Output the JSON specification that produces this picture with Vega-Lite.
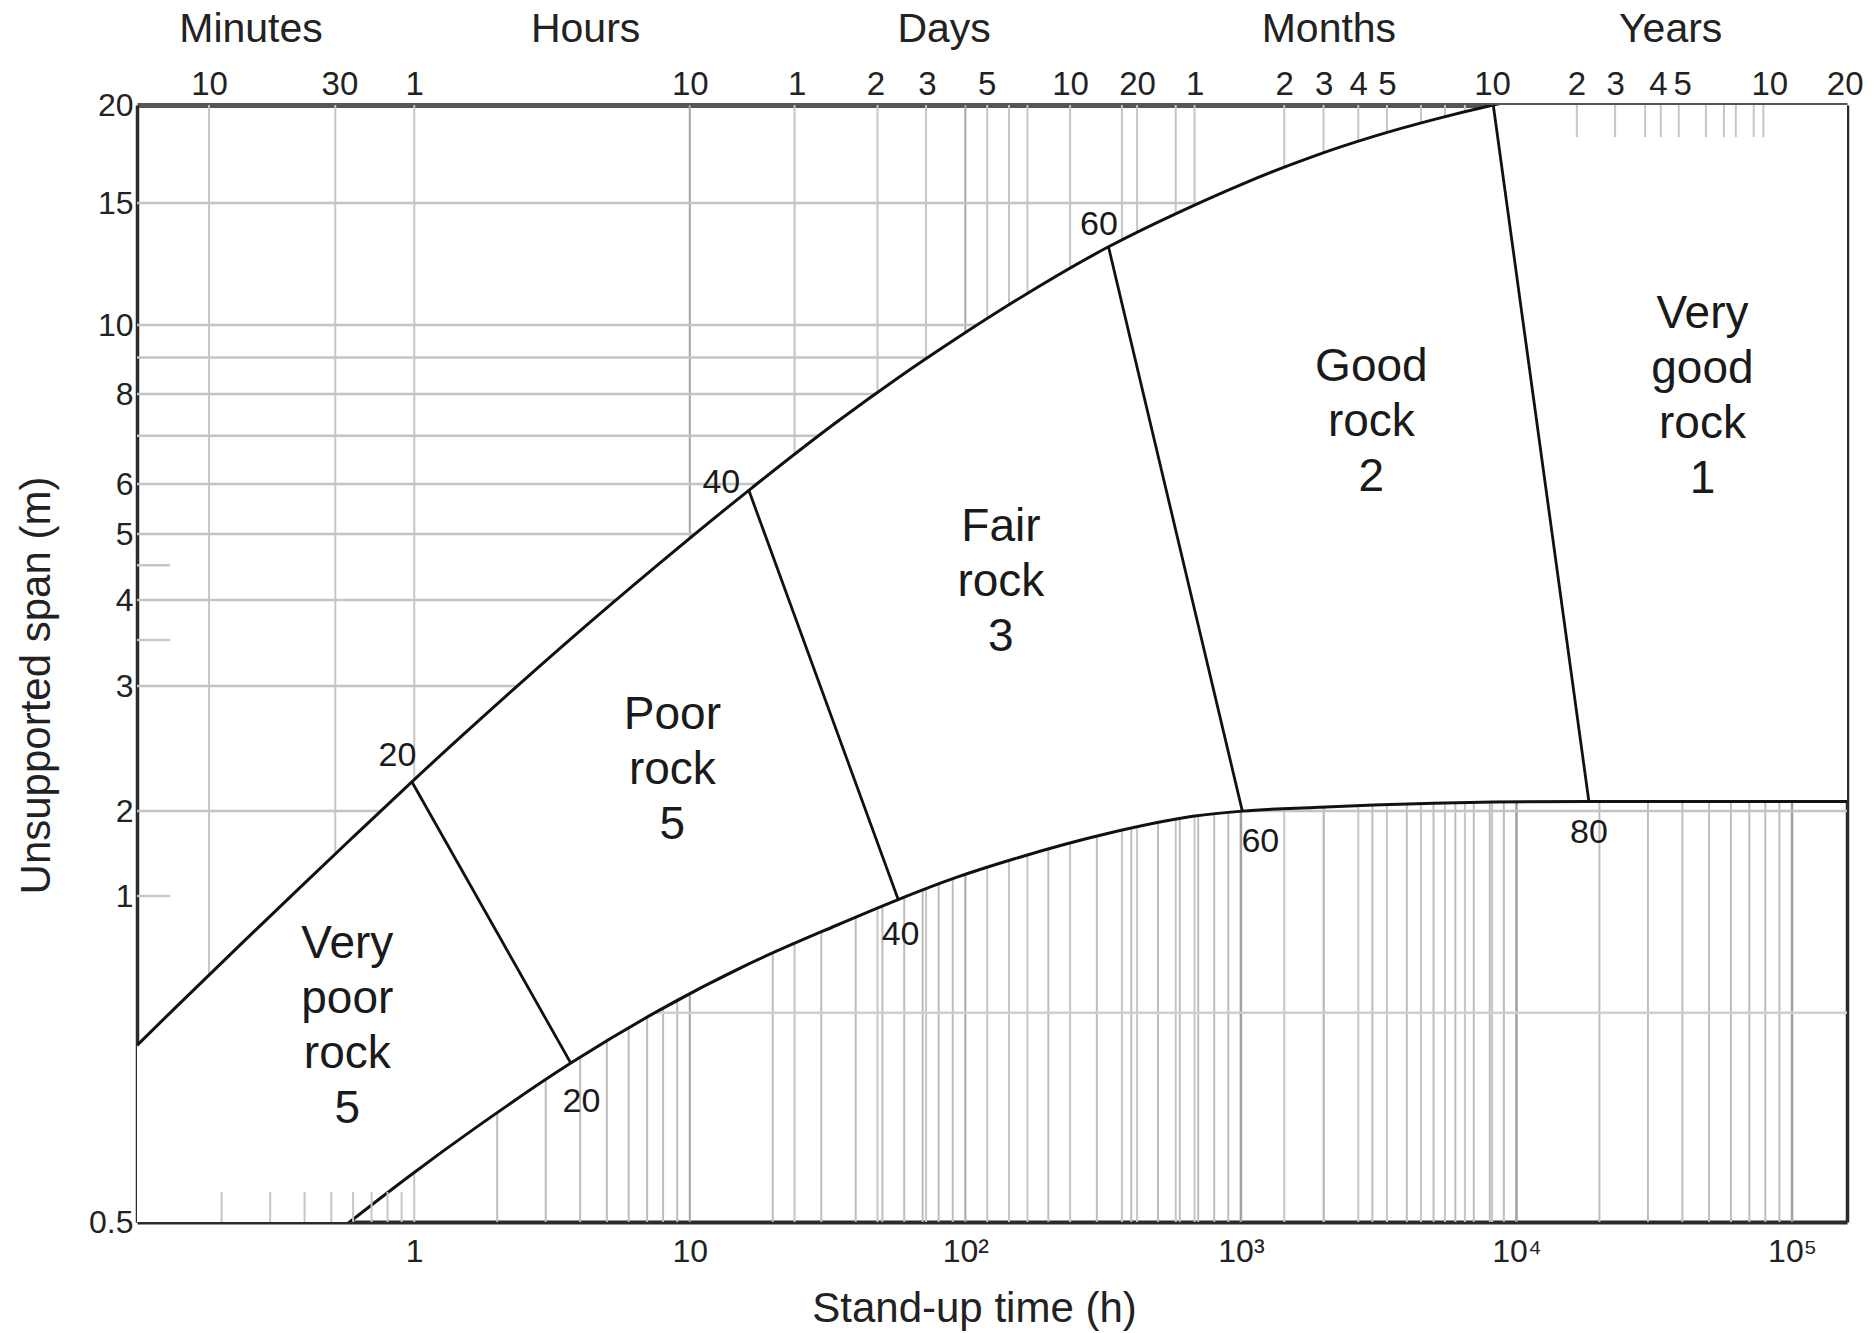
{
  "$schema": "https://vega.github.io/schema/vega-lite/v6.json",
  "width": 1710,
  "height": 1117,
  "autosize": {"type": "none"},
  "padding": {"left": 137, "top": 105, "right": 27, "bottom": 111},
  "background": "white",
  "config": {
    "view": {"stroke": null},
    "font": "Liberation Sans",
    "axis": {
      "labelFont": "Liberation Sans",
      "titleFont": "Liberation Sans",
      "labelColor": "#222",
      "titleColor": "#222",
      "titleFontWeight": "normal",
      "grid": false,
      "ticks": false,
      "tickSize": 0,
      "labelOverlap": false,
      "labelFlush": false,
      "zindex": 1,
      "domainColor": "#2b2b2b",
      "domainWidth": 3.5
    },
    "text": {"font": "Liberation Sans", "color": "#1a1a1a"}
  },
  "datasets": {
    "gridA": [{"t":0.18},{"t":0.517},{"t":1},{"t":24},{"t":48},{"t":72},{"t":120},{"t":144},{"t":168},{"t":240},{"t":370},{"t":420},{"t":580},{"t":679},{"t":1436},{"t":1995},{"t":2666},{"t":3388},{"t":4500},{"t":5500},{"t":6500},{"t":8157}],
    "gridADark": [{"t":10},{"t":100}],
    "gridB": [{"t":2},{"t":3},{"t":4},{"t":5},{"t":6},{"t":7},{"t":8},{"t":9},{"t":20},{"t":30},{"t":40},{"t":50},{"t":60},{"t":70},{"t":80},{"t":90},{"t":200},{"t":300},{"t":400},{"t":500},{"t":600},{"t":700},{"t":800},{"t":900},{"t":2000},{"t":3000},{"t":4000},{"t":5000},{"t":6000},{"t":7000},{"t":8000},{"t":9000},{"t":20000},{"t":30000},{"t":40000},{"t":50000},{"t":60000},{"t":70000},{"t":80000},{"t":90000}],
    "gridBDark": [{"t":1000},{"t":10000},{"t":100000}],
    "gridC": [{"s":15},{"s":10},{"s":9},{"s":8},{"s":7},{"s":6},{"s":5},{"s":4},{"s":3},{"s":2}],
    "gridD": [{"s":0.78}],
    "band": [
      {"t":0.0986,"up":0.728,"lo":0.3483},
      {"t":0.13983,"up":0.7943,"lo":0.374},
      {"t":0.23047,"up":0.8985,"lo":0.4139},
      {"t":0.37967,"up":1.0583,"lo":0.4581},
      {"t":0.58318,"up":1.576,"lo":0.5},
      {"t":0.98023,"up":2.1988,"lo":0.5535},
      {"t":1.6976,"up":2.6719,"lo":0.6127},
      {"t":3.6999,"up":3.5122,"lo":0.701},
      {"t":7.5913,"up":4.4924,"lo":0.7821},
      {"t":16.377,"up":5.8635,"lo":0.8656},
      {"t":33.95,"up":7.3033,"lo":0.9392},
      {"t":57.06,"up":8.4325,"lo":0.9924},
      {"t":92.14,"up":9.5563,"lo":1.1609},
      {"t":151.8,"up":10.837,"lo":1.3575},
      {"t":330.7,"up":12.969,"lo":1.6683},
      {"t":678.8,"up":14.899,"lo":1.9194},
      {"t":1012,"up":15.86,"lo":1.998},
      {"t":1842,"up":17.217,"lo":2.0233},
      {"t":3035,"up":18.24,"lo":2.039},
      {"t":5001,"up":19.16,"lo":2.0509},
      {"t":8237,"up":20.0,"lo":2.0589},
      {"t":18313,"up":21.15,"lo":2.0629},
      {"t":36846,"up":22.0,"lo":2.0629},
      {"t":158300,"up":23.16,"lo":2.0629}
    ],
    "dividers": [
      {"rmr":20,"t1":0.98023,"s1":2.1988,"t2":3.6999,"s2":0.701},
      {"rmr":40,"t1":16.377,"s1":5.8635,"t2":57.06,"s2":0.9924},
      {"rmr":60,"t1":330.7,"s1":12.969,"t2":1012,"s2":1.998},
      {"rmr":80,"t1":8237,"s1":20.0,"t2":18313,"s2":2.0629}
    ],
    "botTicks": [{"t":0.2},{"t":0.3},{"t":0.4},{"t":0.5},{"t":0.6},{"t":0.7},{"t":0.8},{"t":0.9}],
    "leftTicks": [{"s":4.5},{"s":3.5},{"s":1}],
    "topTicks": [{"t":16560},{"t":22800},{"t":29300},{"t":33400},{"t":38800},{"t":48700},{"t":56600},{"t":62500},{"t":72600},{"t":78700}],
    "rmrLabels": [
      {"t":0.8695,"s":2.3888,"label":"20"},
      {"t":4.0464,"s":0.6459,"label":"20"},
      {"t":13.018,"s":6.0232,"label":"40"},
      {"t":58.21,"s":0.9197,"label":"40"},
      {"t":305.4,"s":13.964,"label":"60"},
      {"t":1175.7,"s":1.5517,"label":"60"},
      {"t":18313,"s":1.6781,"label":"80"}
    ],
    "regions": [
      {"t":0.5716,"s":0.9034,"label":"Very\npoor\nrock\n5"},
      {"t":8.645,"s":2.7344,"label":"Poor\nrock\n5"},
      {"t":134.6,"s":5.132,"label":"Fair\nrock\n3"},
      {"t":2975,"s":8.7393,"label":"Good\nrock\n2"},
      {"t":47300,"s":10.364,"label":"Very\ngood\nrock\n1"}
    ]
  },
  "resolve": {"axis": {"x": "independent", "y": "independent"}},
  "layer": [
    {
      "data": {"name": "gridA"},
      "mark": {"type": "rule", "color": "#c6c6c6", "strokeWidth": 2},
      "encoding": {
        "x": {
          "field": "t", "type": "quantitative",
          "scale": {"type": "log", "domain": [0.0986, 158300], "nice": false, "zero": false},
          "axis": {
            "orient": "top",
            "values": [0.18, 0.535, 1, 10, 24.4, 47.2, 72.5, 119.5, 240, 420, 679, 1436, 1995, 2666, 3388, 8157, 16500, 22800, 32600, 39900, 82700, 155200],
            "labelExpr": "datum.value < 0.3 ? '10' : datum.value < 0.8 ? '30' : datum.value < 3 ? '1' : datum.value < 15 ? '10' : datum.value < 35 ? '1' : datum.value < 60 ? '2' : datum.value < 95 ? '3' : datum.value < 180 ? '5' : datum.value < 330 ? '10' : datum.value < 550 ? '20' : datum.value < 1000 ? '1' : datum.value < 1700 ? '2' : datum.value < 2300 ? '3' : datum.value < 3000 ? '4' : datum.value < 5000 ? '5' : datum.value < 12000 ? '10' : datum.value < 19000 ? '2' : datum.value < 27000 ? '3' : datum.value < 36000 ? '4' : datum.value < 60000 ? '5' : datum.value < 120000 ? '10' : '20'",
            "labelFontSize": 33,
            "labelPadding": 4,
            "title": null,
            "domainColor": "#555",
            "domainWidth": 5
          }
        },
        "y": {
          "datum": 0.5, "type": "quantitative",
          "scale": {"type": "log", "domain": [0.5, 1, 2, 3, 4, 5, 6, 8, 10, 15, 20], "range": [1117, 791, 706, 581, 495, 429, 379, 289, 220, 98, 0], "nice": false, "zero": false},
          "axis": null
        },
        "y2": {"datum": 20}
      }
    },
    {
      "data": {"name": "gridADark"},
      "mark": {"type": "rule", "color": "#a6a6a6", "strokeWidth": 2},
      "encoding": {
        "x": {"field": "t", "type": "quantitative", "axis": null},
        "y": {"datum": 0.5, "type": "quantitative", "axis": null},
        "y2": {"datum": 20}
      }
    },
    {
      "data": {"name": "gridB"},
      "mark": {"type": "rule", "color": "#bdbdbd", "strokeWidth": 2},
      "encoding": {
        "x": {"field": "t", "type": "quantitative", "axis": null},
        "y": {"datum": 0.5, "type": "quantitative", "axis": null},
        "y2": {"datum": 2.1}
      }
    },
    {
      "data": {"name": "gridBDark"},
      "mark": {"type": "rule", "color": "#a0a0a0", "strokeWidth": 2.5},
      "encoding": {
        "x": {"field": "t", "type": "quantitative", "axis": null},
        "y": {"datum": 0.5, "type": "quantitative", "axis": null},
        "y2": {"datum": 2.1}
      }
    },
    {
      "data": {"name": "gridC"},
      "mark": {"type": "rule", "color": "#c4c4c4", "strokeWidth": 2.5},
      "encoding": {
        "y": {
          "field": "s", "type": "quantitative",
          "axis": {
            "orient": "left",
            "values": [0.5, 1, 2, 3, 4, 5, 6, 8, 10, 15, 20],
            "labelExpr": "format(datum.value, '~g')",
            "labelFontSize": 32,
            "labelPadding": 4,
            "title": "Unsupported span (m)",
            "titleFontSize": 42,
            "titleAngle": -90,
            "titleX": -101,
            "titleY": 580,
            "titleAlign": "center",
            "titleBaseline": "middle"
          }
        },
        "x": {"datum": 0.0986, "type": "quantitative", "axis": null},
        "x2": {"datum": 158300}
      }
    },
    {
      "data": {"name": "gridD"},
      "mark": {"type": "rule", "color": "#cfcfcf", "strokeWidth": 2.5},
      "encoding": {
        "y": {"field": "s", "type": "quantitative", "axis": null},
        "x": {"datum": 1, "type": "quantitative", "axis": null},
        "x2": {"datum": 158300}
      }
    },
    {
      "data": {"name": "band"},
      "mark": {"type": "area", "color": "white", "opacity": 1, "interpolate": "monotone", "clip": true},
      "encoding": {
        "x": {
          "field": "t", "type": "quantitative",
          "axis": {
            "orient": "bottom",
            "values": [1, 10, 100, 1000, 10000, 100000],
            "labelExpr": "datum.value < 5 ? '1' : datum.value < 50 ? '10' : datum.value < 500 ? '10²' : datum.value < 5000 ? '10³' : datum.value < 50000 ? '10⁴' : '10⁵'",
            "labelFontSize": 32,
            "labelPadding": 14,
            "title": "Stand-up time (h)",
            "titleFontSize": 42,
            "titleX": 837,
            "titleY": 86,
            "titleAlign": "center",
            "titleBaseline": "middle",
            "domainWidth": 4
          }
        },
        "y": {
          "field": "up", "type": "quantitative",
          "axis": {"orient": "right", "labels": false, "title": null, "domainWidth": 3.5}
        },
        "y2": {"field": "lo"}
      }
    },
    {
      "data": {"name": "band"},
      "mark": {"type": "line", "color": "#111", "strokeWidth": 3, "interpolate": "monotone", "clip": true},
      "encoding": {
        "x": {"field": "t", "type": "quantitative", "axis": null},
        "y": {"field": "up", "type": "quantitative", "axis": null}
      }
    },
    {
      "data": {"name": "band"},
      "mark": {"type": "line", "color": "#111", "strokeWidth": 3, "interpolate": "monotone", "clip": true},
      "encoding": {
        "x": {"field": "t", "type": "quantitative", "axis": null},
        "y": {"field": "lo", "type": "quantitative", "axis": null}
      }
    },
    {
      "data": {"name": "dividers"},
      "mark": {"type": "rule", "color": "#111", "strokeWidth": 2.8},
      "encoding": {
        "x": {"field": "t1", "type": "quantitative", "axis": null},
        "y": {"field": "s1", "type": "quantitative", "axis": null},
        "x2": {"field": "t2"},
        "y2": {"field": "s2"}
      }
    },
    {
      "data": {"name": "botTicks"},
      "mark": {"type": "rule", "color": "#c6c6c6", "strokeWidth": 2},
      "encoding": {
        "x": {"field": "t", "type": "quantitative", "axis": null},
        "y": {"datum": 0.5, "type": "quantitative", "axis": null},
        "y2": {"datum": 0.533}
      }
    },
    {
      "data": {"name": "leftTicks"},
      "mark": {"type": "rule", "color": "#c6c6c6", "strokeWidth": 2.5},
      "encoding": {
        "y": {"field": "s", "type": "quantitative", "axis": null},
        "x": {"datum": 0.0986, "type": "quantitative", "axis": null},
        "x2": {"datum": 0.13}
      }
    },
    {
      "data": {"name": "topTicks"},
      "mark": {"type": "rule", "color": "#c6c6c6", "strokeWidth": 2},
      "encoding": {
        "x": {
          "field": "t", "type": "quantitative",
          "axis": {
            "orient": "top",
            "values": [0.2546, 4.17, 83.4, 2077, 36130],
            "labelExpr": "datum.value < 1 ? 'Minutes' : datum.value < 20 ? 'Hours' : datum.value < 500 ? 'Days' : datum.value < 10000 ? 'Months' : 'Years'",
            "labelFontSize": 41,
            "labelPadding": 55,
            "domain": false,
            "title": null
          }
        },
        "y": {"datum": 20, "type": "quantitative", "axis": null},
        "y2": {"datum": 18.2}
      }
    },
    {
      "data": {"name": "rmrLabels"},
      "mark": {"type": "text", "fontSize": 34, "align": "center", "baseline": "middle"},
      "encoding": {
        "x": {"field": "t", "type": "quantitative", "axis": null},
        "y": {"field": "s", "type": "quantitative", "axis": null},
        "text": {"field": "label"}
      }
    },
    {
      "data": {"name": "regions"},
      "mark": {"type": "text", "fontSize": 46, "lineHeight": 55, "lineBreak": "\n", "align": "center", "baseline": "middle"},
      "encoding": {
        "x": {"field": "t", "type": "quantitative", "axis": null},
        "y": {"field": "s", "type": "quantitative", "axis": null},
        "text": {"field": "label"}
      }
    }
  ]
}
